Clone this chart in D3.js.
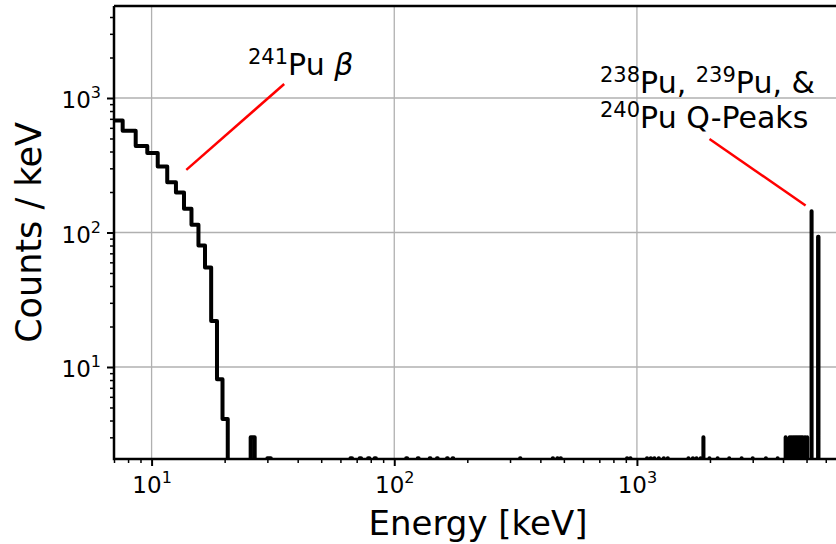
<!DOCTYPE html>
<html>
<head>
<meta charset="utf-8">
<script src="https://cdn.jsdelivr.net/npm/d3@7"></script>
<style>
  body { margin: 0; background: #fff; }
  text { font-family: "DejaVu Sans", sans-serif; fill: #000; }
</style>
</head>
<body>
<div id="chart"></div>
<script>
// 241Pu beta continuum, 1 keV bins (edges in keV, counts / keV)
const lowEdges = [6.6, 7.6, 8.6, 9.6, 10.6, 11.6, 12.6, 13.6, 14.6, 15.6, 16.6, 17.6, 18.6, 19.6, 20.6]
const lowCounts = [680, 570, 440, 390, 310, 236, 198, 150, 114, 80, 55, 22, 8.1, 4.1]

// isolated 1 keV bins with a few counts (bin start energy)
const sparseEnergies = [25.6, 1879, 4100, 4260, 4330, 4400, 4470, 4540, 4610, 4680, 4750, 4820, 4890, 4960, 5030]
const sparseCounts = [3, 3, 3, 3, 3, 3, 3, 3, 3, 3, 3, 3, 3, 3, 3]

// bins that just poke above the bottom of the axes
const floorEnergies = [30, 66, 72, 78, 83, 112, 125, 140, 150, 165, 174, 330, 450, 470, 485, 910, 940,
  1100, 1140, 1180, 1230, 1290, 1340, 1630, 1700, 1760, 1830, 1990, 2150, 2400, 2700, 3000, 3400, 3800]
const floorCount = 2.1

// Q-value peaks
const peakLo = [5244, 5578]
const peakHi = [5246, 5600]
const peakCounts = [144, 93]

const xMajor = [10, 100, 1000]
const yMajor = [10, 100, 1000]

// annotations: [tip energy, tip counts], [tail energy, tail counts]
const betaArrow = [[13.9, 292], [35.2, 1271]]
const qArrow = [[4955, 159], [1991, 495]]

let width = 836
let height = 544
let plot = {left: 114, top: 6, right: 842, bottom: 459}

let svg = d3.select("#chart")
    .append("svg")
        .attr("width", width)
        .attr("height", height)

let x = d3.scaleLog()
    .domain([7, 7000])
    .range([plot.left, plot.right])

let y = d3.scaleLog()
    .domain([2.07, 4830])
    .range([plot.bottom, plot.top])

// minor tick values, 2..9 in each decade
function minors(scale){
    let d = scale.domain()
    let out = []
    for (let p = Math.floor(Math.log10(d[0])); p <= Math.ceil(Math.log10(d[1])); p++){
        for (let m = 2; m < 10; m++){
            let v = m * Math.pow(10, p)
            if (v >= d[0] && v <= d[1]) out.push(v)
        }
    }
    return out
}

//grid
svg.append("g")
    .selectAll("line")
    .data(xMajor)
    .join("line")
    .attr("x1", d => x(d)).attr("x2", d => x(d))
    .attr("y1", plot.top).attr("y2", plot.bottom)
    .attr("stroke", "#b0b0b0")
    .attr("stroke-width", 1.3)

svg.append("g")
    .selectAll("line")
    .data(yMajor)
    .join("line")
    .attr("y1", d => y(d)).attr("y2", d => y(d))
    .attr("x1", plot.left).attr("x2", plot.right)
    .attr("stroke", "#b0b0b0")
    .attr("stroke-width", 1.3)

//collect bins
let bins = []
for (let i = 0; i < lowCounts.length; i++){
    bins.push({x0: lowEdges[i], x1: lowEdges[i + 1], c: lowCounts[i]})
}
sparseEnergies.forEach((e, i) => bins.push({x0: e, x1: e + 1, c: sparseCounts[i]}))
floorEnergies.forEach(e => bins.push({x0: e, x1: e + 1, c: floorCount}))
peakLo.forEach((e, i) => bins.push({x0: e, x1: peakHi[i], c: peakCounts[i]}))
bins.sort((a, b) => a.x0 - b.x0)

//step outline, empty bins drop far below the axes
let zero = 0.01
let pts = [[bins[0].x0, zero]]
bins.forEach((b, i) => {
    if (i > 0 && bins[i - 1].x1 !== b.x0){
        pts.push([bins[i - 1].x1, zero])
        pts.push([b.x0, zero])
    }
    pts.push([b.x0, b.c])
    pts.push([b.x1, b.c])
})
pts.push([bins[bins.length - 1].x1, zero])

svg.append("clipPath")
    .attr("id", "clip")
    .append("rect")
        .attr("x", plot.left)
        .attr("y", plot.top)
        .attr("width", plot.right - plot.left)
        .attr("height", plot.bottom - plot.top)

svg.append("path")
    .datum(pts)
    .attr("clip-path", "url(#clip)")
    .attr("d", d3.line().x(d => x(d[0])).y(d => y(d[1])))
    .attr("fill", "none")
    .attr("stroke", "#000")
    .attr("stroke-width", 4)
    .attr("stroke-linejoin", "round")

//spines
svg.append("path")
    .attr("d", `M${plot.left},${plot.top}V${plot.bottom}H${plot.right}M${plot.left},${plot.top}H${plot.right}`)
    .attr("fill", "none")
    .attr("stroke", "#000")
    .attr("stroke-width", 2.5)

//ticks
function powLabel(sel, sup){
    sel.text(null)
    sel.append("tspan").text("10")
    sel.append("tspan")
        .text(d => Math.round(Math.log10(d)))
        .style("font-size", "16px")
        .attr("dy", sup)
}

let xAxis = svg.append("g")
    .attr("transform", `translate(0,${plot.bottom})`)
    .call(d3.axisBottom(x).tickValues(xMajor).tickSize(7).tickPadding(0).tickFormat(d => d))
xAxis.select(".domain").remove()
xAxis.selectAll("line").attr("stroke-width", 2)
xAxis.selectAll("text")
    .attr("y", 34).attr("dy", null)
    .style("font-size", "23px")
    .style("font-family", "DejaVu Sans")
    .call(powLabel, -10)

let xMinor = svg.append("g")
    .attr("transform", `translate(0,${plot.bottom})`)
    .call(d3.axisBottom(x).tickValues(minors(x)).tickSize(4).tickFormat(""))
xMinor.select(".domain").remove()
xMinor.selectAll("line").attr("stroke-width", 1.5)

let yAxis = svg.append("g")
    .attr("transform", `translate(${plot.left},0)`)
    .call(d3.axisLeft(y).tickValues(yMajor).tickSize(7).tickPadding(0).tickFormat(d => d))
yAxis.select(".domain").remove()
yAxis.selectAll("line").attr("stroke-width", 2)
yAxis.selectAll("text")
    .attr("x", -13).attr("dy", 10)
    .style("font-size", "23px")
    .style("font-family", "DejaVu Sans")
    .call(powLabel, -10)

let yMinor = svg.append("g")
    .attr("transform", `translate(${plot.left},0)`)
    .call(d3.axisLeft(y).tickValues(minors(y)).tickSize(4).tickFormat(""))
yMinor.select(".domain").remove()
yMinor.selectAll("line").attr("stroke-width", 1.5)

//axis labels
svg.append("text")
    .attr("x", (plot.left + plot.right) / 2)
    .attr("y", 535)
    .attr("text-anchor", "middle")
    .style("font-size", "34px")
    .text("Energy [keV]")

svg.append("text")
    .attr("transform", `translate(41,${(plot.top + plot.bottom) / 2}) rotate(-90)`)
    .attr("text-anchor", "middle")
    .style("font-size", "35px")
    .text("Counts / keV")

//annotations
function arrow(a){
    svg.append("line")
        .attr("x1", x(a[0][0])).attr("y1", y(a[0][1]))
        .attr("x2", x(a[1][0])).attr("y2", y(a[1][1]))
        .attr("stroke", "#ff0000")
        .attr("stroke-width", 2.5)
}
arrow(betaArrow)
arrow(qArrow)

function isoText(xp, yp, parts){
    let t = svg.append("text")
        .attr("x", xp).attr("y", yp)
        .style("font-size", "30px")
    let up = false
    parts.forEach(p => {
        let s = t.append("tspan").text(p.t)
        if (p.sup){
            s.style("font-size", "21px").attr("dy", up ? 0 : -11)
            up = true
        } else {
            if (up) s.attr("dy", 11)
            up = false
        }
        if (p.it) s.style("font-style", "italic")
    })
}

isoText(248, 75, [{t: "241", sup: true}, {t: "Pu "}, {t: "β", it: true}])
isoText(600, 93, [{t: "238", sup: true}, {t: "Pu, "}, {t: "239", sup: true}, {t: "Pu, &"}])
isoText(600, 128, [{t: "240", sup: true}, {t: "Pu Q-Peaks"}])
</script>
</body>
</html>
